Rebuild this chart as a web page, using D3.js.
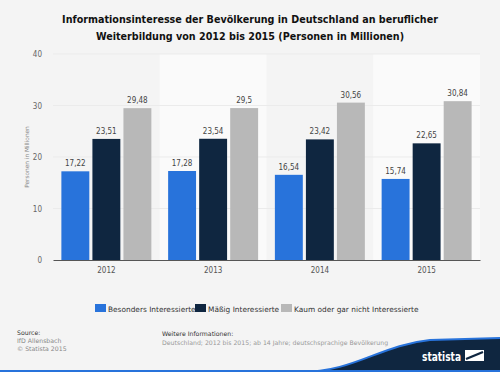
<!DOCTYPE html>
<html>
<head>
<meta charset="utf-8">
<script src="https://cdn.jsdelivr.net/npm/d3@7"></script>
<style>
  body { margin: 0; background: #f4f4f4; }
  svg { display: block; font-family: "DejaVu Sans", sans-serif; }
</style>
</head>
<body>
<div id="chart"></div>
<script>
const years = ["2012", "2013", "2014", "2015"];
const seriesNames = ["Besonders Interessierte", "Mäßig Interessierte", "Kaum oder gar nicht Interessierte"];
const besonders = [17.22, 17.28, 16.54, 15.74];
const maessig = [23.51, 23.54, 23.42, 22.65];
const kaum = [29.48, 29.5, 30.56, 30.84];
const yTicks = [0, 10, 20, 30, 40];
const colors = ["#2873db", "#0f2640", "#b8b8b8"];

const W = 500, H = 372;
const margin = { left: 53, right: 20, top: 54, bottom: 112 };

let svg = d3.select("#chart").append("svg")
    .attr("width", W)
    .attr("height", H);

svg.append("rect").attr("width", W).attr("height", H).attr("fill", "#f4f4f4");

// title
let title = svg.append("text")
    .attr("text-anchor", "middle")
    .style("font-size", "9.6px")
    .style("font-weight", "bold")
    .attr("fill", "#111");
title.append("tspan").attr("x", 250).attr("y", 23)
    .text("Informationsinteresse der Bevölkerung in Deutschland an beruflicher");
title.append("tspan").attr("x", 250).attr("y", 40)
    .text("Weiterbildung von 2012 bis 2015 (Personen in Millionen)");

let x = d3.scaleBand()
    .domain(years)
    .range([margin.left, W - margin.right]);

let x1 = d3.scaleBand()
    .domain(seriesNames)
    .range([0, x.bandwidth()])
    .paddingInner(0.1)
    .paddingOuter(0.27);

let y = d3.scaleLinear()
    .domain([0, 40])
    .range([H - margin.bottom, margin.top]);

// alternating column bands
svg.append("g").selectAll("rect")
    .data(years.filter((d, i) => i % 2 === 1))
    .join("rect")
    .attr("x", d => x(d))
    .attr("y", y(40))
    .attr("width", x.bandwidth())
    .attr("height", y(0) - y(40))
    .attr("fill", "#fafafa");

// grid lines
svg.append("g").selectAll("line")
    .data(yTicks.slice(1))
    .join("line")
    .attr("x1", margin.left)
    .attr("x2", W - margin.right)
    .attr("y1", d => y(d))
    .attr("y2", d => y(d))
    .attr("stroke", "#ebebeb")
    .attr("stroke-width", 1);

// y axis
let yAxis = svg.append("g")
    .attr("transform", `translate(${margin.left - 11},0)`)
    .call(d3.axisLeft(y).tickValues(yTicks).tickSize(0).tickPadding(0));
yAxis.select(".domain").remove();
yAxis.selectAll("text")
    .attr("fill", "#666")
    .style("font-size", "8px")
    .style("font-family", "'DejaVu Sans Condensed', 'DejaVu Sans', sans-serif");

svg.append("text")
    .attr("transform", `translate(29,${(y(0) + y(40)) / 2}) rotate(-90)`)
    .attr("text-anchor", "middle")
    .attr("fill", "#888")
    .style("font-size", "5.8px")
    .text("Personen in Millionen");

// bars
let data = years.map((yr, i) => ({
    year: yr,
    values: [besonders[i], maessig[i], kaum[i]]
}));

let groups = svg.append("g").selectAll("g")
    .data(data)
    .join("g")
    .attr("transform", d => `translate(${x(d.year)},0)`);

groups.selectAll("rect")
    .data(d => d.values.map((v, j) => ({ name: seriesNames[j], value: v, j: j })))
    .join("rect")
    .attr("x", d => x1(d.name))
    .attr("y", d => y(d.value))
    .attr("width", x1.bandwidth())
    .attr("height", d => y(0) - y(d.value))
    .attr("fill", d => colors[d.j]);

groups.selectAll("text")
    .data(d => d.values.map((v, j) => ({ name: seriesNames[j], value: v })))
    .join("text")
    .attr("x", d => x1(d.name) + x1.bandwidth() / 2)
    .attr("y", d => y(d.value) - 5)
    .attr("text-anchor", "middle")
    .attr("fill", "#444")
    .style("font-size", "8px")
    .style("font-family", "'DejaVu Sans Condensed', 'DejaVu Sans', sans-serif")
    .text(d => String(d.value).replace(".", ","));

// x axis
let xAxis = svg.append("g")
    .attr("transform", `translate(0,${y(0)})`)
    .call(d3.axisBottom(x).tickSize(0).tickPadding(7));
xAxis.select(".domain").attr("stroke", "#555").attr("stroke-width", 1.2);
xAxis.selectAll("text")
    .attr("fill", "#555")
    .style("font-size", "8px")
    .style("font-family", "'DejaVu Sans Condensed', 'DejaVu Sans', sans-serif");

// legend
let legendX = [95, 195, 281];
let legend = svg.append("g").selectAll("g")
    .data(seriesNames)
    .join("g")
    .attr("transform", (d, i) => `translate(${legendX[i]},304)`);
legend.append("rect")
    .attr("width", 11).attr("height", 8)
    .attr("fill", (d, i) => colors[i]);
legend.append("text")
    .attr("x", 13).attr("y", 7.5)
    .attr("fill", "#333")
    .style("font-size", "7.4px")
    .text(d => d);

// footer
let foot = svg.append("g").style("font-size", "6.2px");
foot.append("text").attr("x", 17).attr("y", 335).attr("fill", "#333").text("Source:");
foot.append("text").attr("x", 17).attr("y", 343).attr("fill", "#888").text("IfD Allensbach");
foot.append("text").attr("x", 17).attr("y", 351).attr("fill", "#888").text("© Statista 2015");
foot.append("text").attr("x", 162).attr("y", 336).attr("fill", "#333").text("Weitere Informationen:");
foot.append("text").attr("x", 162).attr("y", 345).attr("fill", "#999")
    .text("Deutschland; 2012 bis 2015; ab 14 Jahre; deutschsprachige Bevölkerung");

// statista logo wave
svg.append("path")
    .attr("d", "M300,372 C355,372 380,345 430,340 L500,338 L500,372 Z")
    .attr("fill", "#0f2640");
svg.append("path")
    .attr("d", "M300,372 C355,372 380,345 430,340 L500,338")
    .attr("fill", "none")
    .attr("stroke", "#2873db")
    .attr("stroke-width", 2);
svg.append("line")
    .attr("x1", 0).attr("x2", W)
    .attr("y1", 371).attr("y2", 371)
    .attr("stroke", "#2873db").attr("stroke-width", 2);
svg.append("text")
    .attr("x", 422).attr("y", 361)
    .attr("fill", "#fff")
    .attr("textLength", 39)
    .attr("lengthAdjust", "spacingAndGlyphs")
    .style("font-size", "13px")
    .style("font-weight", "bold")
    .text("statista");
let logo = svg.append("g").attr("transform", "translate(465,350)");
logo.append("rect").attr("width", 19).attr("height", 11).attr("fill", "#fff");
logo.append("path").attr("d", "M1,9 L18,2").attr("stroke", "#0f2640").attr("stroke-width", 2.4);
</script>
</body>
</html>
